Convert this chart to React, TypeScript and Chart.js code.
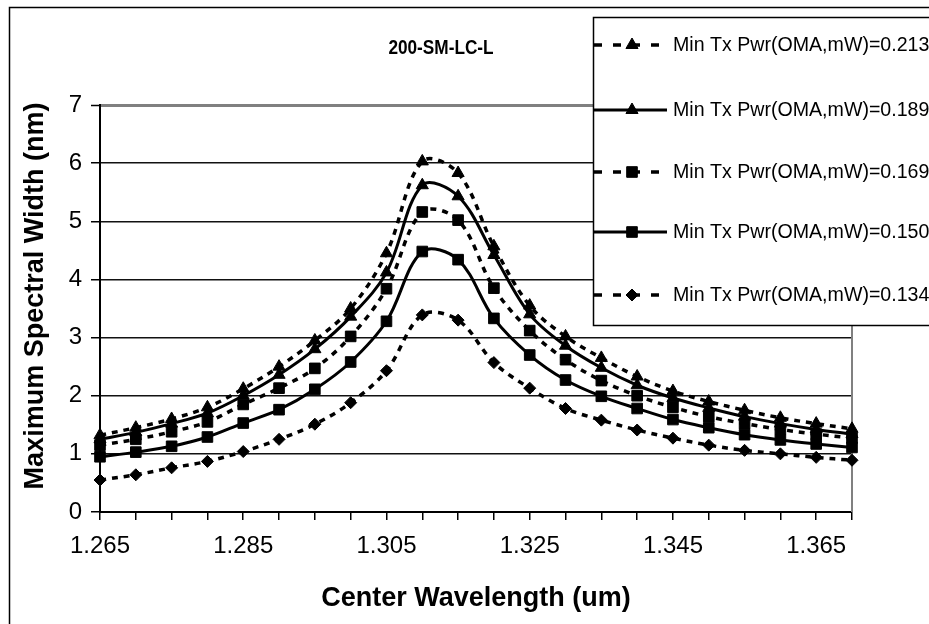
import React, { useEffect, useRef } from "react";
import { Chart, registerables } from "chart.js";

Chart.register(...registerables);

const WAVELENGTHS = [
  "1.265", "1.27", "1.275", "1.28", "1.285", "1.29", "1.295", "1.3", "1.305", "1.31", "1.315",
  "1.32", "1.325", "1.33", "1.335", "1.34", "1.345", "1.35", "1.355", "1.36", "1.365", "1.37",
];
const TICK_LABELS = ["1.265", "1.285", "1.305", "1.325", "1.345", "1.365"];

const S_0213 = [1.32, 1.45, 1.6, 1.8, 2.12, 2.5, 2.95, 3.5, 4.45, 6.03, 5.83, 4.57, 3.55, 3.02, 2.65, 2.33, 2.08, 1.9, 1.75, 1.62, 1.52, 1.43];
const S_0189 = [1.25, 1.37, 1.52, 1.7, 2.0, 2.36, 2.8, 3.36, 4.12, 5.62, 5.43, 4.42, 3.4, 2.86, 2.48, 2.18, 1.96, 1.79, 1.64, 1.52, 1.42, 1.34];
const S_0169 = [1.15, 1.25, 1.38, 1.55, 1.85, 2.13, 2.47, 3.02, 3.84, 5.16, 5.02, 3.85, 3.12, 2.62, 2.26, 2.0, 1.8, 1.64, 1.52, 1.42, 1.34, 1.27];
const S_0150 = [0.95, 1.03, 1.13, 1.29, 1.53, 1.76, 2.11, 2.58, 3.28, 4.48, 4.34, 3.33, 2.7, 2.27, 1.99, 1.78, 1.59, 1.45, 1.33, 1.24, 1.17, 1.11];
const S_0134 = [0.55, 0.64, 0.76, 0.87, 1.04, 1.25, 1.51, 1.88, 2.43, 3.39, 3.3, 2.57, 2.13, 1.78, 1.58, 1.41, 1.27, 1.15, 1.06, 1.0, 0.94, 0.89];

const SERIES_NAMES = [
  "Min Tx Pwr(OMA,mW)=0.213",
  "Min Tx Pwr(OMA,mW)=0.189",
  "Min Tx Pwr(OMA,mW)=0.169",
  "Min Tx Pwr(OMA,mW)=0.150",
  "Min Tx Pwr(OMA,mW)=0.134",
];

const TITLE = "200-SM-LC-L";
const X_TITLE = "Center Wavelength (um)";
const Y_TITLE = "Maximum Spectral Width (nm)";

const FONT = "'Liberation Sans', Arial, sans-serif";
const DASH = [6, 6];
const LEGEND_DASH = [8, 11];

function drawMarker(ctx: CanvasRenderingContext2D, style: string, x: number, y: number, r: number) {
  ctx.beginPath();
  if (style === "triangle") {
    const h = r;
    ctx.moveTo(x, y - h);
    ctx.lineTo(x + Math.sin((2 * Math.PI) / 3) * h, y + h / 2);
    ctx.lineTo(x - Math.sin((2 * Math.PI) / 3) * h, y + h / 2);
    ctx.closePath();
  } else if (style === "rect") {
    const s = Math.SQRT1_2 * r;
    ctx.rect(x - s, y - s, 2 * s, 2 * s);
  } else {
    ctx.moveTo(x, y - r);
    ctx.lineTo(x + r, y);
    ctx.lineTo(x, y + r);
    ctx.lineTo(x - r, y);
    ctx.closePath();
  }
  ctx.fill();
  ctx.stroke();
}

const overlay = {
  id: "overlay",
  beforeDatasetsDraw(chart: any) {
    const { ctx, chartArea: a } = chart;
    ctx.save();
    ctx.strokeStyle = "#808080";
    ctx.lineWidth = 2;
    ctx.beginPath();
    ctx.moveTo(a.right, a.top);
    ctx.lineTo(a.right, a.bottom);
    ctx.stroke();
    ctx.restore();
  },
  afterDraw(chart: any) {
    const ctx: CanvasRenderingContext2D = chart.ctx;
    ctx.save();
    ctx.fillStyle = "#000";

    // axis titles
    ctx.font = `bold 27px ${FONT}`;
    ctx.textAlign = "center";
    ctx.textBaseline = "alphabetic";
    ctx.fillText(X_TITLE, 476, 606);
    ctx.save();
    ctx.translate(42.5, 296);
    ctx.rotate(-Math.PI / 2);
    ctx.fillText(Y_TITLE, 0, 0);
    ctx.restore();

    // chart title (slightly condensed, as in the source)
    ctx.save();
    ctx.translate(441, 54);
    ctx.scale(0.82, 1);
    ctx.font = `bold 21px ${FONT}`;
    ctx.fillText(TITLE, 0, 0);
    ctx.restore();

    // legend box
    ctx.fillStyle = "#fff";
    ctx.fillRect(593, 17, 400, 308);
    ctx.strokeStyle = "#000";
    ctx.lineWidth = 1.5;
    ctx.strokeRect(593.5, 17.5, 400, 308);

    const rows = [45, 110, 172, 232, 295];
    chart.data.datasets.forEach((ds: any, i: number) => {
      const y = rows[i];
      ctx.save();
      ctx.strokeStyle = "#000";
      ctx.lineWidth = ds.borderWidth;
      ctx.setLineDash(ds.borderDash && ds.borderDash.length ? LEGEND_DASH : []);
      ctx.beginPath();
      ctx.moveTo(594, y);
      ctx.lineTo(667, y);
      ctx.stroke();
      ctx.setLineDash([]);
      ctx.fillStyle = "#000";
      ctx.lineWidth = 1;
      drawMarker(ctx, ds.pointStyle, 632, y, ds.pointRadius);
      ctx.restore();
      ctx.fillStyle = "#000";
      ctx.font = `19.6px ${FONT}`;
      ctx.textAlign = "left";
      ctx.textBaseline = "middle";
      ctx.fillText(ds.label, 673, y + 1);
    });

    // outer frame
    ctx.strokeStyle = "#000";
    ctx.lineWidth = 1.5;
    ctx.strokeRect(9.5, 7.5, 1000, 1000);
    ctx.restore();
  },
};

export default function App() {
  const ref = useRef<HTMLCanvasElement | null>(null);
  useEffect(() => {
    if (!ref.current) return;
    const mk = (label: string, data: number[], dashed: boolean, style: string, r: number) => ({
      label,
      data,
      borderColor: "#000",
      backgroundColor: "#000",
      borderWidth: dashed ? 3.5 : 3,
      borderDash: dashed ? DASH : [],
      pointStyle: style,
      pointRadius: r,
      pointBorderWidth: 1,
      pointBackgroundColor: "#000",
      pointBorderColor: "#000",
      tension: 0.35,
      fill: false,
    });
    const chart = new Chart(ref.current, {
      type: "line",
      data: {
        labels: WAVELENGTHS,
        datasets: [
          mk(SERIES_NAMES[0], S_0213, true, "triangle", 7),
          mk(SERIES_NAMES[1], S_0189, false, "triangle", 7),
          mk(SERIES_NAMES[2], S_0169, true, "rect", 7.5),
          mk(SERIES_NAMES[3], S_0150, false, "rect", 7.5),
          mk(SERIES_NAMES[4], S_0134, true, "rectRot", 6),
        ],
      },
      options: {
        animation: false,
        responsive: false,
        devicePixelRatio: 1,
        layout: { padding: { left: 0, top: 105, right: 77, bottom: 0 } },
        plugins: {
          legend: { display: false },
          title: { display: false },
          tooltip: { enabled: false },
        },
        scales: {
          x: {
            type: "category",
            offset: false,
            grid: { drawOnChartArea: false, tickLength: 8, color: "#000", lineWidth: 1.5 },
            border: { color: "#000", width: 2 },
            ticks: {
              autoSkip: false,
              maxRotation: 0,
              minRotation: 0,
              color: "#000",
              padding: 12,
              font: { family: FONT, size: 24 },
              callback: (_v: any, i: number) => {
                const l = WAVELENGTHS[i];
                return TICK_LABELS.includes(l) ? l : "";
              },
            },
            afterFit: (s: any) => {
              s.height = 112;
            },
          },
          y: {
            min: 0,
            max: 7,
            ticks: { stepSize: 1, color: "#000", padding: 9, font: { family: FONT, size: 24 } },
            grid: {
              color: (c: any) => (c.tick && c.tick.value === 7 ? "#808080" : "#111"),
              lineWidth: (c: any) => (c.tick && c.tick.value === 7 ? 3 : 1.5),
              tickColor: "#000",
              tickWidth: 1.5,
              tickLength: 9,
            },
            border: { color: "#000", width: 2 },
            afterFit: (s: any) => {
              s.width = 100;
            },
          },
        },
      },
      plugins: [overlay],
    } as any);
    return () => chart.destroy();
  }, []);
  return (
    <div style={{ position: "absolute", left: 0, top: 0, width: 929, height: 624, background: "#fff" }}>
      <canvas ref={ref} width={929} height={624} style={{ display: "block" }} />
    </div>
  );
}
